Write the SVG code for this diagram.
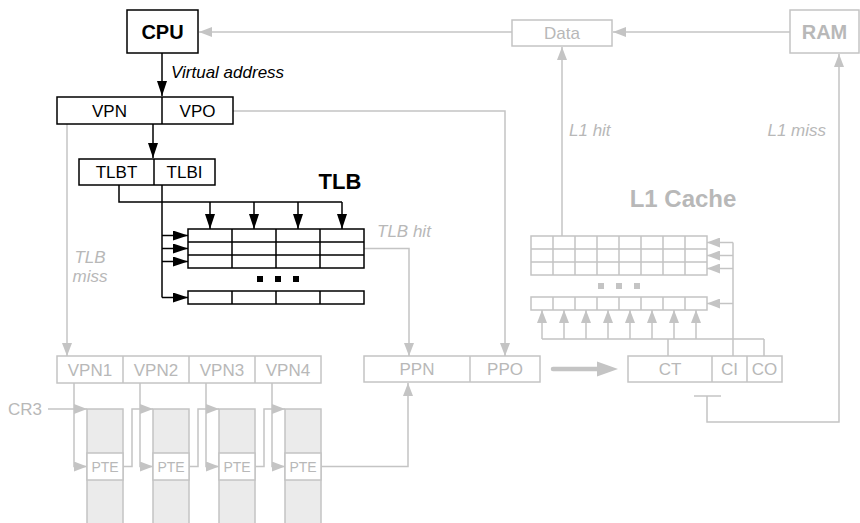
<svg xmlns="http://www.w3.org/2000/svg" width="860" height="523" viewBox="0 0 860 523">
<defs>
<marker id="ab" markerUnits="userSpaceOnUse" markerWidth="15" markerHeight="10" refX="15" refY="5" orient="auto"><path d="M0,0L15,5L0,10z" fill="#000"/></marker>
<marker id="ag" markerUnits="userSpaceOnUse" markerWidth="13" markerHeight="10" refX="13" refY="5" orient="auto"><path d="M0,0L13,5L0,10z" fill="#c4c4c4"/></marker>
<style>
text{font-family:"Liberation Sans",Arial,Helvetica,sans-serif;font-size:17px;text-anchor:middle}
.k{fill:#000}
.g{fill:#b8b8b8}
.b{font-weight:bold;font-size:20px}
.i{font-style:italic}
.bx{fill:#fff;stroke:#000;stroke-width:1.5}
.gx{fill:#fff;stroke:#c4c4c4;stroke-width:1.5}
.pt{fill:#ebebeb;stroke:#c4c4c4;stroke-width:1.5}
.lk{fill:none;stroke:#000;stroke-width:1.5}
.lg{fill:none;stroke:#c4c4c4;stroke-width:1.5}
.mk{marker-end:url(#ab)}
.mg{marker-end:url(#ag)}
</style>
</defs>
<g id="connectors">
<path class="lk mk" d="M162,53V96"/>
<path class="lk mk" d="M153,124V158"/>
<path class="lk" d="M119,185V202H342"/>
<path class="lk mk" d="M210,202V229"/>
<path class="lk mk" d="M254,202V229"/>
<path class="lk mk" d="M298,202V229"/>
<path class="lk mk" d="M342,202V229"/>
<path class="lk" d="M162,185V297.5"/>
<path class="lk mk" d="M162,235.5H188"/>
<path class="lk mk" d="M162,248.5H188"/>
<path class="lk mk" d="M162,261.5H188"/>
<path class="lk mk" d="M162,297.5H188"/>
<path class="lg mg" d="M512,32H199"/>
<path class="lg mg" d="M790,32H613"/>
<path class="lg mg" d="M562,236V47"/>
<path class="lg" d="M694,396H721"/>
<path class="lg mg" d="M707,396V422H839V54"/>
<path class="lg mg" d="M233,111H505V356"/>
<path class="lg mg" d="M364,248.5H409V356"/>
<path class="lg mg" d="M67,124V356"/>
<path class="lg mg" d="M74,383V466.5H87"/>
<path class="lg mg" d="M140,383V466.5H153"/>
<path class="lg mg" d="M206,383V466.5H219"/>
<path class="lg mg" d="M272,383V466.5H285"/>
<path class="lg mg" d="M48,409H87"/>
<path class="lg mg" d="M123,466.5H132V409H153"/>
<path class="lg mg" d="M189,466.5H198V409H219"/>
<path class="lg mg" d="M255,466.5H264V409H285"/>
<path class="lg mg" d="M321,466.5H408V383"/>
<path d="M553,369H600" fill="none" stroke="#c4c4c4" stroke-width="4.5" stroke-linecap="round"/>
<path d="M597,361.5L618,369L597,376.5z" fill="#c4c4c4"/>
<path class="lg" d="M668,356V339M764,356V339M542,339H764"/>
<path class="lg mg" d="M542,339V310"/>
<path class="lg mg" d="M564,339V310"/>
<path class="lg mg" d="M586,339V310"/>
<path class="lg mg" d="M608,339V310"/>
<path class="lg mg" d="M630,339V310"/>
<path class="lg mg" d="M652,339V310"/>
<path class="lg mg" d="M674,339V310"/>
<path class="lg mg" d="M696,339V310"/>
<path class="lg" d="M733,356V242.5"/>
<path class="lg mg" d="M733,242.5H707"/>
<path class="lg mg" d="M733,255.5H707"/>
<path class="lg mg" d="M733,268.5H707"/>
<path class="lg mg" d="M733,303.5H707"/>
</g>
<g id="labels">
<text class="k i" x="171" y="78" style="text-anchor:start">Virtual address</text>
<text class="g i" x="377" y="237" style="text-anchor:start">TLB hit</text>
<text class="g i" x="90" y="263">TLB</text>
<text class="g i" x="90" y="282">miss</text>
<text class="g i" x="569" y="136" style="text-anchor:start">L1 hit</text>
<text class="g i" x="826" y="136" style="text-anchor:end">L1 miss</text>
<text class="g" x="8" y="415" style="text-anchor:start">CR3</text>
</g>
<g id="cpu">
<rect class="bx" x="127" y="10" width="71" height="43"/>
<text class="k b" x="162.5" y="39">CPU</text>
</g>
<g id="data">
<rect class="gx" x="512" y="20" width="100" height="26"/>
<text class="g" x="562" y="39">Data</text>
</g>
<g id="ram">
<rect class="gx" x="790" y="10" width="69" height="43"/>
<text class="g b" x="824.5" y="39">RAM</text>
</g>
<g id="va">
<rect class="bx" x="57" y="97" width="176" height="27"/>
<path class="lk" d="M162,97V124"/>
<text class="k" x="109.5" y="117">VPN</text>
<text class="k" x="197.5" y="117">VPO</text>
</g>
<g id="tlbidx">
<rect class="bx" x="79" y="159" width="136" height="26"/>
<path class="lk" d="M154,159V185"/>
<text class="k" x="116.5" y="178">TLBT</text>
<text class="k" x="184.5" y="178">TLBI</text>
</g>
<g id="tlb">
<text class="k b" x="340" y="189" style="font-size:22px">TLB</text>
<rect class="bx" x="188" y="229" width="176" height="39"/>
<path class="lk" d="M188,242H364M188,255H364M232,229V268M276,229V268M320,229V268"/>
<rect class="bx" x="188" y="291" width="176" height="13"/>
<path class="lk" d="M232,291V304M276,291V304M320,291V304"/>
<rect x="257" y="276" width="6" height="6" fill="#000"/>
<rect x="275" y="276" width="6" height="6" fill="#000"/>
<rect x="293" y="276" width="6" height="6" fill="#000"/>
</g>
<g id="l1cache">
<text class="g b" x="683" y="207" style="font-size:24px">L1 Cache</text>
<rect class="gx" x="531" y="236" width="176" height="39"/>
<path class="lg" d="M531,249H707M531,262H707M553,236V275M575,236V275M597,236V275M619,236V275M641,236V275M663,236V275M685,236V275"/>
<rect class="gx" x="531" y="297" width="176" height="13"/>
<path class="lg" d="M553,297V310M575,297V310M597,297V310M619,297V310M641,297V310M663,297V310M685,297V310"/>
<rect x="598" y="283" width="6" height="6" fill="#c4c4c4"/>
<rect x="616" y="283" width="6" height="6" fill="#c4c4c4"/>
<rect x="634" y="283" width="6" height="6" fill="#c4c4c4"/>
</g>
<g id="vpns">
<rect class="gx" x="57" y="356" width="264" height="27"/>
<path class="lg" d="M123,356V383M189,356V383M255,356V383"/>
<text class="g" x="90" y="376">VPN1</text>
<text class="g" x="156" y="376">VPN2</text>
<text class="g" x="222" y="376">VPN3</text>
<text class="g" x="288" y="376">VPN4</text>
</g>
<g id="pt1">
<rect class="pt" x="87" y="409" width="36" height="120"/>
<rect class="gx" x="87" y="453" width="36" height="27"/>
<text class="g" x="105" y="472" style="font-size:14px">PTE</text>
</g>
<g id="pt2">
<rect class="pt" x="153" y="409" width="36" height="120"/>
<rect class="gx" x="153" y="453" width="36" height="27"/>
<text class="g" x="171" y="472" style="font-size:14px">PTE</text>
</g>
<g id="pt3">
<rect class="pt" x="219" y="409" width="36" height="120"/>
<rect class="gx" x="219" y="453" width="36" height="27"/>
<text class="g" x="237" y="472" style="font-size:14px">PTE</text>
</g>
<g id="pt4">
<rect class="pt" x="285" y="409" width="36" height="120"/>
<rect class="gx" x="285" y="453" width="36" height="27"/>
<text class="g" x="303" y="472" style="font-size:14px">PTE</text>
</g>
<g id="pa">
<rect class="gx" x="364" y="356" width="176" height="26"/>
<path class="lg" d="M470,356V382"/>
<text class="g" x="417" y="375">PPN</text>
<text class="g" x="505" y="375">PPO</text>
</g>
<g id="ctcico">
<rect class="gx" x="628" y="356" width="154" height="26"/>
<path class="lg" d="M712,356V382M747,356V382"/>
<text class="g" x="670" y="375">CT</text>
<text class="g" x="729.5" y="375">CI</text>
<text class="g" x="764.5" y="375">CO</text>
</g>
</svg>
